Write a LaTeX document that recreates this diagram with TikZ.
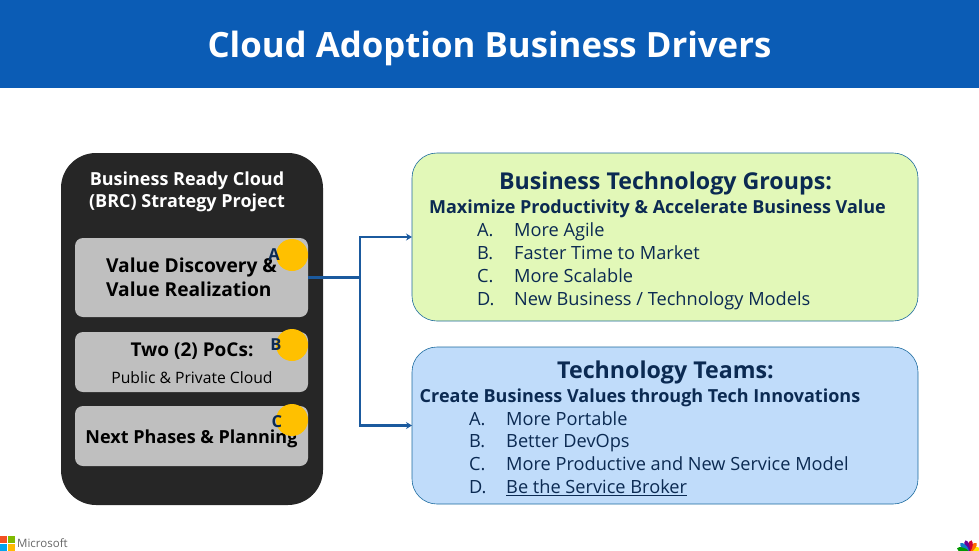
\documentclass[tikz,border=0pt]{standalone}
\usepackage{fontspec}
\setmainfont{Open Sans}
\usepackage{tikz}
\usetikzlibrary{arrows.meta, calc, positioning, matrix}
\definecolor{msblue}{HTML}{0B5CB5}
\definecolor{msdark}{HTML}{262626}
\definecolor{msgray}{HTML}{BFBFBF}
\definecolor{msgold}{HTML}{FFC000}
\definecolor{msnavy}{HTML}{0B2A52}
\definecolor{msline}{HTML}{1B5A9E}
\definecolor{msborder}{HTML}{1B6A9E}
\definecolor{msgreen}{HTML}{E2F8B8}
\definecolor{mssky}{HTML}{C0DCFA}
\definecolor{logotext}{HTML}{666666}
\definecolor{logored}{HTML}{F25022}
\definecolor{logogreen}{HTML}{7FBA00}
\definecolor{logoblue}{HTML}{00A4EF}
\definecolor{logoyellow}{HTML}{FFB900}
\tikzset{
  panel/.style={inner sep=0pt, outer sep=0pt, rounded corners=8pt, fill=msgray, minimum width=233pt, text=black},
  goalbox/.style={inner sep=0pt, outer sep=0pt, rounded corners=25pt, draw=msborder, line width=.6pt, minimum width=506pt},
  dot/.style={circle, fill=msgold, inner sep=0pt, minimum size=32pt},
  tag/.style={inner sep=0pt, text=msnavy, font=\fontsize{16.5}{18}\selectfont\bfseries},
  boxhead/.style={inner sep=0pt, text=msnavy, font=\fontsize{23.2}{26}\selectfont\bfseries},
  boxsub/.style={inner sep=0pt, text=msnavy, font=\fontsize{18}{21}\selectfont\bfseries},
  itemlist/.style={matrix of nodes, inner sep=0pt, anchor=north west,
    nodes={inner sep=0pt, text=msnavy, anchor=base west, text height=14pt, text depth=5pt, font=\fontsize{18.2}{20}\selectfont},
    column 1/.style={nodes={text width=37pt}}},
  flow/.style={msline, line width=2.6pt},
}
\begin{document}
\begin{tikzpicture}[x=1pt, y=-1pt]
  \useasboundingbox (0,0) rectangle (979,551);
  \node[fill=msblue, inner sep=0pt, outer sep=0pt, minimum width=979pt, minimum height=88pt] (header) at (489.5,44) {};
  \node[text=white, inner sep=0pt, font=\fontsize{34.8}{40}\selectfont\bfseries] (title) at (489.5,48) {Cloud Adoption Business Drivers};

  \node[fill=msdark, rounded corners=35pt, inner sep=0pt, outer sep=0pt, minimum width=262pt, minimum height=352pt] (strategy) at (192,329) {};
  \node[text=white, inner sep=0pt, align=center, font=\fontsize{18}{22.5}\selectfont\bfseries] (strategyhead) at (187,192) {Business Ready Cloud\\(BRC) Strategy Project};

  \node[panel, minimum height=79pt, align=left, font=\fontsize{19.2}{24}\selectfont\bfseries] (discovery) at (191.5,277.5) {Value Discovery \&\\Value Realization};
  \node[panel, minimum height=60pt] (pocs) at (191.5,362) {};
  \node[inner sep=0pt, font=\fontsize{19}{22}\selectfont\bfseries] (pocshead) at (192,351) {Two (2) PoCs:};
  \node[inner sep=0pt, font=\fontsize{15.7}{18}\selectfont] (pocssub) at (192,378) {Public \& Private Cloud};
  \node[panel, minimum height=60pt] (phases) at (191.5,436) {};
  \node[inner sep=0pt, font=\fontsize{18}{22}\selectfont\bfseries] (phaseshead) at (191.5,439) {Next Phases \& Planning};

  \node[dot] (dotA) at (292,255) {};
  \node[dot] (dotB) at (292,345) {};
  \node[dot] (dotC) at (292,420) {};
  \node[tag] (tagA) at ($(dotA.center)+(-18,0)$) {A};
  \node[tag] (tagB) at ($(dotB.center)+(-16,0)$) {B};
  \node[tag] (tagC) at ($(dotC.center)+(-15,2)$) {C};

  \node[goalbox, fill=msgreen, minimum height=168pt] (groups) at (665,237) {};
  \node[goalbox, fill=mssky, minimum height=157pt] (teams) at (665,425.5) {};

  \coordinate (branch) at (360,277.5);
  \draw[flow] (discovery.east) -- (branch);
  \draw[flow, -{Stealth[length=6pt,width=7pt]}] (branch) |- (groups.west);
  \draw[flow, -{Stealth[length=6pt,width=7pt]}] (branch) |- (teams.west);

  \node[boxhead] (groupshead) at (665.5,183.5) {Business Technology Groups:};
  \node[boxsub] (groupssub) at (657.5,209) {Maximize Productivity \& Accelerate Business Value};
  \matrix (groupslist) [itemlist, row sep=4pt] at (477,222)
    {A. & More Agile\\ B. & Faster Time to Market\\ C. & More Scalable\\ D. & New Business / Technology Models\\};

  \node[boxhead] (teamshead) at (665.5,372) {Technology Teams:};
  \node[boxsub] (teamssub) at (640,397.5) {Create Business Values through Tech Innovations};
  \matrix (teamslist) [itemlist, row sep=3.7pt] at (469,411)
    {A. & More Portable\\ B. & Better DevOps\\ C. & More Productive and New Service Model\\ D. & \underline{Be the Service Broker}\\};

  % logos
  \fill[logored] (0,536) rectangle (7,543);
  \fill[logogreen] (7.5,536) rectangle (14.5,543);
  \fill[logoblue] (0,543.5) rectangle (7,551);
  \fill[logoyellow] (7.5,543.5) rectangle (14.5,551);
  \node[inner sep=0pt, anchor=west, text=logotext, font=\fontsize{11.5}{14}\selectfont] (mslogo) at (17,543) {Microsoft};
  \foreach \ang/\tone in {-72/yellow!90!orange, -42/orange!85!red, -14/purple!80!red, 14/violet!80!blue, 42/cyan!60!blue, 72/green!60!black}
    \fill[\tone, rotate around={\ang:(968.5,552)}] (968.5,546) ellipse (2.5 and 6);
\end{tikzpicture}
\end{document}
